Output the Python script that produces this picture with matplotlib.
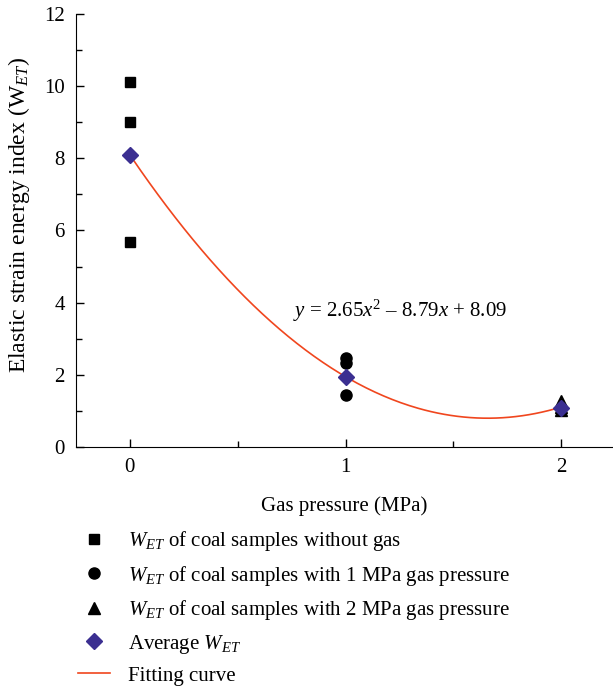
import numpy as np
import matplotlib.pyplot as plt
from matplotlib.ticker import MultipleLocator

plt.rcParams['font.family'] = 'Liberation Serif'
plt.rcParams['mathtext.fontset'] = 'custom'
plt.rcParams['mathtext.rm'] = 'Liberation Serif'
plt.rcParams['mathtext.it'] = 'Liberation Serif:italic'

# measured W_ET per gas pressure
p0 = [0, 0, 0]
w0 = [10.1, 9.0, 5.67]
p1 = [1, 1, 1]
w1 = [2.47, 2.33, 1.44]
p2 = [2, 2, 2]
w2 = [1.27, 1.12, 1.02]

# averages
p_avg = [0, 1, 2]
w_avg = [8.09, 1.94, 1.08]

# quadratic fit coefficients
coef = [2.65, -8.79, 8.09]

fig = plt.figure(figsize=(6.13, 6.9), dpi=100)
ax = fig.add_axes([0.124, 0.352, 0.876, 0.628])

h1, = ax.plot(p0, w0, 's', color='black', ms=7, ls='none',
              label=r'$W_{ET}$ of coal samples without gas')
h2, = ax.plot(p1, w1, 'o', color='black', ms=8, ls='none',
              label=r'$W_{ET}$ of coal samples with 1 MPa gas pressure')
h3, = ax.plot(p2, w2, '^', color='black', ms=9, ls='none',
              label=r'$W_{ET}$ of coal samples with 2 MPa gas pressure')

xs = np.linspace(0, 2, 200)
h5, = ax.plot(xs, np.polyval(coef, xs), color='#f0461e', lw=1.2,
              label='Fitting curve')
h4, = ax.plot(p_avg, w_avg, 'D', color='#3b2f91', ms=8, ls='none',
              label=r'Average $W_{ET}$')

ax.text(0.757, 3.77, r'$y$ = 2.65$x^2$ – 8.79$x$ + 8.09', fontsize=15,
        va='center', ha='left')

ax.set_xlim(-0.25, 2.24)
ax.set_ylim(0, 12)
ax.xaxis.set_major_locator(MultipleLocator(1))
ax.xaxis.set_minor_locator(MultipleLocator(0.5))
ax.yaxis.set_major_locator(MultipleLocator(2))
ax.yaxis.set_minor_locator(MultipleLocator(1))
ax.tick_params(which='both', direction='in', labelsize=15, width=1)
ax.tick_params(which='major', length=6, pad=8)
ax.tick_params(which='minor', length=4)
ax.spines['top'].set_visible(False)
ax.spines['right'].set_visible(False)

ax.set_xlabel('Gas pressure (MPa)', fontsize=15, labelpad=14)
ax.set_ylabel(r'Elastic strain energy index ($\mathrm{W}_{ET}$)', fontsize=17, labelpad=9)
ax.yaxis.label.set_y(0.536)

fig.legend(handles=[h1, h2, h3, h4, h5], loc='upper left',
           bbox_to_anchor=(0.111, 0.248), frameon=False, fontsize=15,
           handlelength=1.5, handletextpad=0.9, labelspacing=0.5,
           borderpad=0)

fig.savefig('out.png', dpi=100)
